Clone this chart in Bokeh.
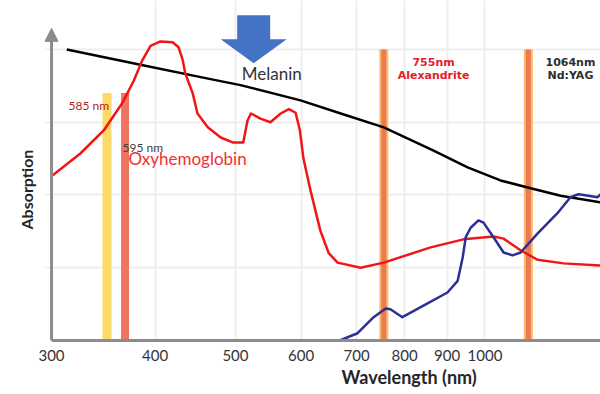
import numpy as np
from bokeh.plotting import figure
from bokeh.models import FixedTicker, PrintfTickFormatter, Label, Arrow, NormalHead, Title
from bokeh.embed import file_html
from bokeh.resources import INLINE

# ---------------- data ----------------
tick_nm = [300, 400, 500, 600, 700, 800, 900, 1000]
grid_abs = [1, 2, 3, 4]

melanin_nm = [313, 384, 454, 507, 599, 670, 755, 867, 953, 1044, 1129, 1234, 1378]
melanin_abs = [4.00, 3.79, 3.62, 3.51, 3.30, 3.12, 2.93, 2.61, 2.38, 2.20, 2.10, 1.99, 1.90]

oxy_nm = [301, 325, 347, 365, 377, 386, 395, 406, 420, 427, 432, 435, 444, 450,
          463, 480, 497, 511, 517, 522, 536, 551, 567, 580, 591, 598, 604, 616,
          633, 648, 664, 708, 755, 860, 942, 1024, 1053, 1104, 1157, 1244, 1378]
oxy_abs = [2.27, 2.57, 2.89, 3.26, 3.57, 3.85, 4.05, 4.11, 4.10, 4.03, 3.85, 3.67, 3.40, 3.12,
           2.93, 2.79, 2.72, 2.72, 3.02, 3.12, 3.05, 3.00, 3.12, 3.18, 3.13, 2.89, 2.50, 2.06,
           1.51, 1.20, 1.07, 1.00, 1.07, 1.28, 1.39, 1.43, 1.40, 1.24, 1.11, 1.06, 1.03]

water_nm = [668, 702, 734, 759, 769, 795, 843, 901, 927, 940, 948, 961, 982, 996,
            1024, 1053, 1080, 1104, 1157, 1223, 1268, 1297, 1333, 1367, 1378]
water_abs = [0.00, 0.10, 0.32, 0.44, 0.43, 0.32, 0.48, 0.66, 0.82, 1.14, 1.42, 1.55, 1.65, 1.62,
             1.42, 1.21, 1.17, 1.21, 1.47, 1.75, 1.97, 2.01, 1.99, 1.97, 2.01]

pdl_nm = [350, 368]          # "585 nm" and "595 nm" bars, as placed on the axis
pdl_top = [3.40, 3.40]
pdl_colors = ["#FFD966", "#EF7462"]

laser_nm = [755, 1128]       # "755nm" and "1064nm" bars, as placed on the axis
laser_top = [4.0, 4.0]

# ---------------- figure ----------------
X0, X1 = 294.2, 1378.4
Y0, Y1 = 0.0, 4.673
FRAME_W, FRAME_H = 556, 340

p = figure(width=600, height=394, x_axis_type="log", x_range=(X0, X1), y_range=(Y0, Y1),
           output_backend="svg", toolbar_location=None,
           min_border_left=44, min_border_right=0, min_border_top=0, min_border_bottom=54)
p.outline_line_color = None
p.background_fill_color = "white"
p.border_fill_color = "white"

p.yaxis.visible = False
ax = p.xaxis[0]
ax.ticker = FixedTicker(ticks=tick_nm)
ax.formatter = PrintfTickFormatter(format="%d")
ax.major_tick_line_color = None
ax.minor_tick_line_color = None
ax.axis_line_width = 3
ax.axis_line_color = "#8C8C8C"
ax.bounds = (300, X1)
ax.major_label_text_font = "Lato"
ax.major_label_text_font_size = "15px"
ax.major_label_text_color = "#333333"
ax.major_label_standoff = 3

p.xgrid.ticker = FixedTicker(ticks=tick_nm[1:])
p.ygrid.ticker = FixedTicker(ticks=grid_abs)
for g in (p.xgrid, p.ygrid):
    g.grid_line_color = "#EEEEEE"
    g.grid_line_width = 2

# axis titles
p.add_layout(Title(text="Wavelength (nm)", align="left", offset=297, standoff=1,
                   text_font="Lato", text_font_size="18px", text_font_style="bold",
                   text_color="#262626"), "below")
p.add_layout(Title(text="Absorption", align="left", offset=111, standoff=18,
                   text_font="Lato", text_font_size="16px", text_font_style="bold",
                   text_color="#262626"), "left")

# y axis line with arrow head
p.add_layout(Arrow(x_start=300, y_start=0, x_end=300, y_end=4.29,
                   line_color="#8C8C8C", line_width=3,
                   end=NormalHead(size=13, fill_color="#8C8C8C", line_color="#8C8C8C")))

# bars
p.segment(x0=pdl_nm, y0=0, x1=pdl_nm, y1=pdl_top, line_width=[9, 8], line_color=pdl_colors,
          line_cap="butt")
p.segment(x0=laser_nm, y0=0, x1=laser_nm, y1=laser_top, line_width=9, line_color="#F6BE62",
          line_cap="butt")
p.segment(x0=laser_nm, y0=0, x1=laser_nm, y1=laser_top, line_width=5, line_color="#EE7856",
          line_cap="butt")

# curves
p.line(melanin_nm, melanin_abs, line_color="#000000", line_width=2.5, line_join="round")
p.line(oxy_nm, oxy_abs, line_color="#F01616", line_width=2.5, line_join="round")
p.line(water_nm, water_abs, line_color="#2B2F96", line_width=2.5, line_join="round")

# block arrow pointing at melanin
px_per_ln = FRAME_W / np.log(X1 / X0)
px_per_abs = FRAME_H / (Y1 - Y0)
tip_x, tip_y = 526, 3.81
dx = np.array([-16.5, 16.5, 16.5, 33, 0, -33, -16.5])
dy = np.array([48, 48, 24, 24, 0, 24, 24])
p.patch(tip_x * np.exp(dx / px_per_ln), tip_y + dy / px_per_abs,
        fill_color="#4472C4", line_color=None)


def lab(x, y, text, size, color, font="Lato", bold=False, align="left"):
    p.add_layout(Label(x=x, y=y, text=text, text_font=font, text_font_size=size,
                       text_color=color, text_font_style="bold" if bold else "normal",
                       text_align=align, text_baseline="middle"))


lab(553, 3.67, "Melanin", "17px", "#333333", align="center")
lab(314.5, 3.23, "585 nm", "12px", "#B01C1C")
lab(365.4, 2.65, "595 nm", "12px", "#404040")
lab(371.5, 2.50, "Oxyhemoglobin", "17px", "#F03030")
lab(867, 3.82, "755nm", "11px", "#E3202A", font="DejaVu Sans", bold=True, align="center")
lab(867, 3.64, "Alexandrite", "11px", "#E3202A", font="DejaVu Sans", bold=True, align="center")
lab(1268, 3.82, "1064nm", "11px", "#2E2E2E", font="DejaVu Sans", bold=True, align="center")
lab(1268, 3.64, "Nd:YAG", "11px", "#2E2E2E", font="DejaVu Sans", bold=True, align="center")

open("out.html", "w").write(file_html(p, INLINE))
